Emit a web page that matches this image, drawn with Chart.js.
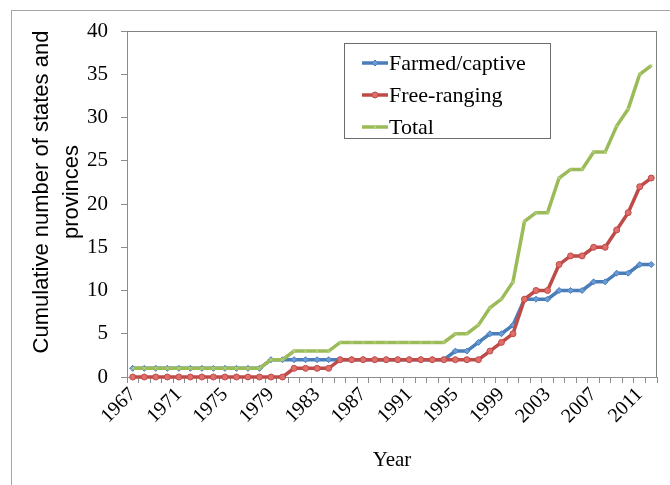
<!DOCTYPE html>
<html>
<head>
<meta charset="utf-8">
<script src="https://cdn.jsdelivr.net/npm/chart.js@4/dist/chart.umd.min.js"></script>
<style>
    body { margin: 0; background: #ffffff; }
    #wrap { position: relative; width: 670px; height: 485px; }
    #frame {
        position: absolute; left: 11px; top: 10px; right: 0; bottom: 0;
        border-left: 1px solid #a6a6a6; border-top: 1px solid #a6a6a6;
        pointer-events: none;
    }
    canvas { position: absolute; left: 0; top: 0; }
</style>
</head>
<body>
<div id="wrap">
    <div id="frame"></div>
    <canvas id="chart" width="670" height="485"></canvas>
</div>
<script>
// Chart data
const years = ['1967', '1968', '1969', '1970', '1971', '1972', '1973', '1974', '1975', '1976',
    '1977', '1978', '1979', '1980', '1981', '1982', '1983', '1984', '1985', '1986',
    '1987', '1988', '1989', '1990', '1991', '1992', '1993', '1994', '1995', '1996',
    '1997', '1998', '1999', '2000', '2001', '2002', '2003', '2004', '2005', '2006',
    '2007', '2008', '2009', '2010', '2011', '2012'];

const farmedCaptive = [1, 1, 1, 1, 1, 1, 1, 1, 1, 1,
    1, 1, 2, 2, 2, 2, 2, 2, 2, 2,
    2, 2, 2, 2, 2, 2, 2, 2, 3, 3,
    4, 5, 5, 6, 9, 9, 9, 10, 10, 10,
    11, 11, 12, 12, 13, 13];

const freeRanging = [0, 0, 0, 0, 0, 0, 0, 0, 0, 0,
    0, 0, 0, 0, 1, 1, 1, 1, 2, 2,
    2, 2, 2, 2, 2, 2, 2, 2, 2, 2,
    2, 3, 4, 5, 9, 10, 10, 13, 14, 14,
    15, 15, 17, 19, 22, 23];

const total = [1, 1, 1, 1, 1, 1, 1, 1, 1, 1,
    1, 1, 2, 2, 3, 3, 3, 3, 4, 4,
    4, 4, 4, 4, 4, 4, 4, 4, 5, 5,
    6, 8, 9, 11, 18, 19, 19, 23, 24, 24,
    26, 26, 29, 31, 35, 36];

const seriesNames = ['Farmed/captive', 'Free-ranging', 'Total'];
const yTicks = [0, 5, 10, 15, 20, 25, 30, 35, 40];
const yTitle = ['Cumulative number of states and', 'provinces'];

// Colours
const blue = '#4a7ebb';
const blueLight = '#6b9bd6';
const red = '#be4b48';
const redLight = '#e06e6b';
const green = '#9bbb59';
const axisColor = '#8c8c8c';
const serif = "'Liberation Serif', 'Times New Roman', serif";
const sans = "'Liberation Sans', Arial, sans-serif";

// Plot area box in the reference
const plotLeft = 127, plotRight = 657, plotTop = 31, plotBottom = 377;

// Plot border, y title and legend box
const boxPlugin = {
    id: 'boxPlugin',
    afterDraw(chart) {
        const ctx = chart.ctx;
        const xs = chart.scales.x;
        const ys = chart.scales.y;
        const l = Math.round(xs.left), r = Math.round(xs.right);
        const t = Math.round(ys.top), b = Math.round(ys.bottom);
        ctx.save();
        // top and right border of the plot area
        ctx.fillStyle = '#808080';
        ctx.fillRect(l, t, r - l, 1);
        ctx.fillRect(r - 1, t, 1, b - t);

        // y axis title, two lines
        ctx.save();
        ctx.translate(42, 192);
        ctx.rotate(-Math.PI / 2);
        ctx.font = '22px ' + sans;
        ctx.fillStyle = '#000000';
        ctx.textAlign = 'center';
        ctx.textBaseline = 'middle';
        yTitle.forEach((line, i) => ctx.fillText(line, 0, i * 30));
        ctx.restore();

        // legend
        const lx = 344, ly = 43, lw = 206, lh = 95;
        ctx.fillStyle = '#ffffff';
        ctx.fillRect(lx, ly, lw, lh);
        ctx.strokeStyle = '#6b6b6b';
        ctx.lineWidth = 1;
        ctx.strokeRect(lx + 0.5, ly + 0.5, lw, lh);

        ctx.font = '22px ' + serif;
        ctx.textBaseline = 'middle';
        ctx.textAlign = 'left';
        chart.data.datasets.forEach((ds, i) => {
            const y = 63 + i * 32;
            ctx.strokeStyle = ds.borderColor;
            ctx.lineWidth = 3.5;
            ctx.beginPath();
            ctx.moveTo(362, y);
            ctx.lineTo(388, y);
            ctx.stroke();
            ctx.fillStyle = ds.pointBackgroundColor;
            ctx.strokeStyle = ds.pointBorderColor;
            ctx.lineWidth = 1;
            Chart.helpers.drawPoint(ctx, {
                pointStyle: ds.pointStyle,
                radius: ds.pointRadius,
                borderWidth: 1
            }, 375, y);
            ctx.fillStyle = '#000000';
            ctx.fillText(seriesNames[i], 389, y + 1);
        });
        ctx.restore();
    }
};

const ctx = document.getElementById('chart').getContext('2d');

const chart = new Chart(ctx, {
    type: 'line',
    data: {
        labels: years,
        datasets: [{
            label: seriesNames[0],
            data: farmedCaptive,
            borderColor: blue,
            backgroundColor: blueLight,
            pointBackgroundColor: blueLight,
            pointBorderColor: blue,
            pointStyle: 'rectRot',
            pointRadius: 3,
            pointBorderWidth: 1,
            borderWidth: 3.5,
            tension: 0,
            order: 2,
            clip: 8
        }, {
            label: seriesNames[1],
            data: freeRanging,
            borderColor: red,
            backgroundColor: redLight,
            pointBackgroundColor: redLight,
            pointBorderColor: red,
            pointStyle: 'circle',
            pointRadius: 3,
            pointBorderWidth: 1,
            borderWidth: 3.5,
            tension: 0,
            order: 1,
            clip: 8
        }, {
            label: seriesNames[2],
            data: total,
            borderColor: green,
            backgroundColor: '#b7d27f',
            pointBackgroundColor: '#b7d27f',
            pointBorderColor: '#b7d27f',
            pointStyle: 'crossRot',
            pointRadius: 2,
            pointBorderWidth: 1,
            borderWidth: 3.5,
            tension: 0,
            order: 0,
            clip: 8
        }]
    },
    options: {
        responsive: false,
        animation: false,
        events: [],
        layout: {
            padding: { top: plotTop, right: 670 - plotRight, left: 14, bottom: 0 }
        },
        plugins: {
            legend: { display: false },
            tooltip: { enabled: false },
            title: { display: false }
        },
        scales: {
            x: {
                type: 'category',
                offset: true,
                afterFit: function(scale) {
                    scale.height = 485 - plotBottom;
                    scale.paddingLeft = 0;
                    scale.paddingRight = 0;
                },
                grid: {
                    offset: true,
                    drawOnChartArea: false,
                    drawTicks: true,
                    tickLength: 6,
                    color: axisColor
                },
                border: { display: true, color: axisColor, width: 1 },
                ticks: {
                    autoSkip: false,
                    minRotation: 45,
                    maxRotation: 45,
                    padding: 0,
                    color: '#000000',
                    font: { family: serif, size: 20 },
                    callback: function(value, index) {
                        return index % 4 === 0 ? years[index] : '';
                    }
                },
                title: {
                    display: true,
                    text: 'Year',
                    color: '#000000',
                    font: { family: serif, size: 21 },
                    padding: { top: 0, bottom: 12 }
                }
            },
            y: {
                min: 0,
                max: 40,
                afterFit: function(scale) {
                    scale.width = plotLeft - 14;
                },
                afterBuildTicks: function(scale) {
                    scale.ticks = yTicks.map(v => ({ value: v }));
                },
                grid: {
                    drawOnChartArea: false,
                    drawTicks: true,
                    tickLength: 6,
                    color: axisColor
                },
                border: { display: true, color: axisColor, width: 1 },
                ticks: {
                    padding: 13,
                    color: '#000000',
                    font: { family: serif, size: 21 }
                },
                title: { display: false }
            }
        }
    },
    plugins: [boxPlugin]
});
</script>
</body>
</html>
